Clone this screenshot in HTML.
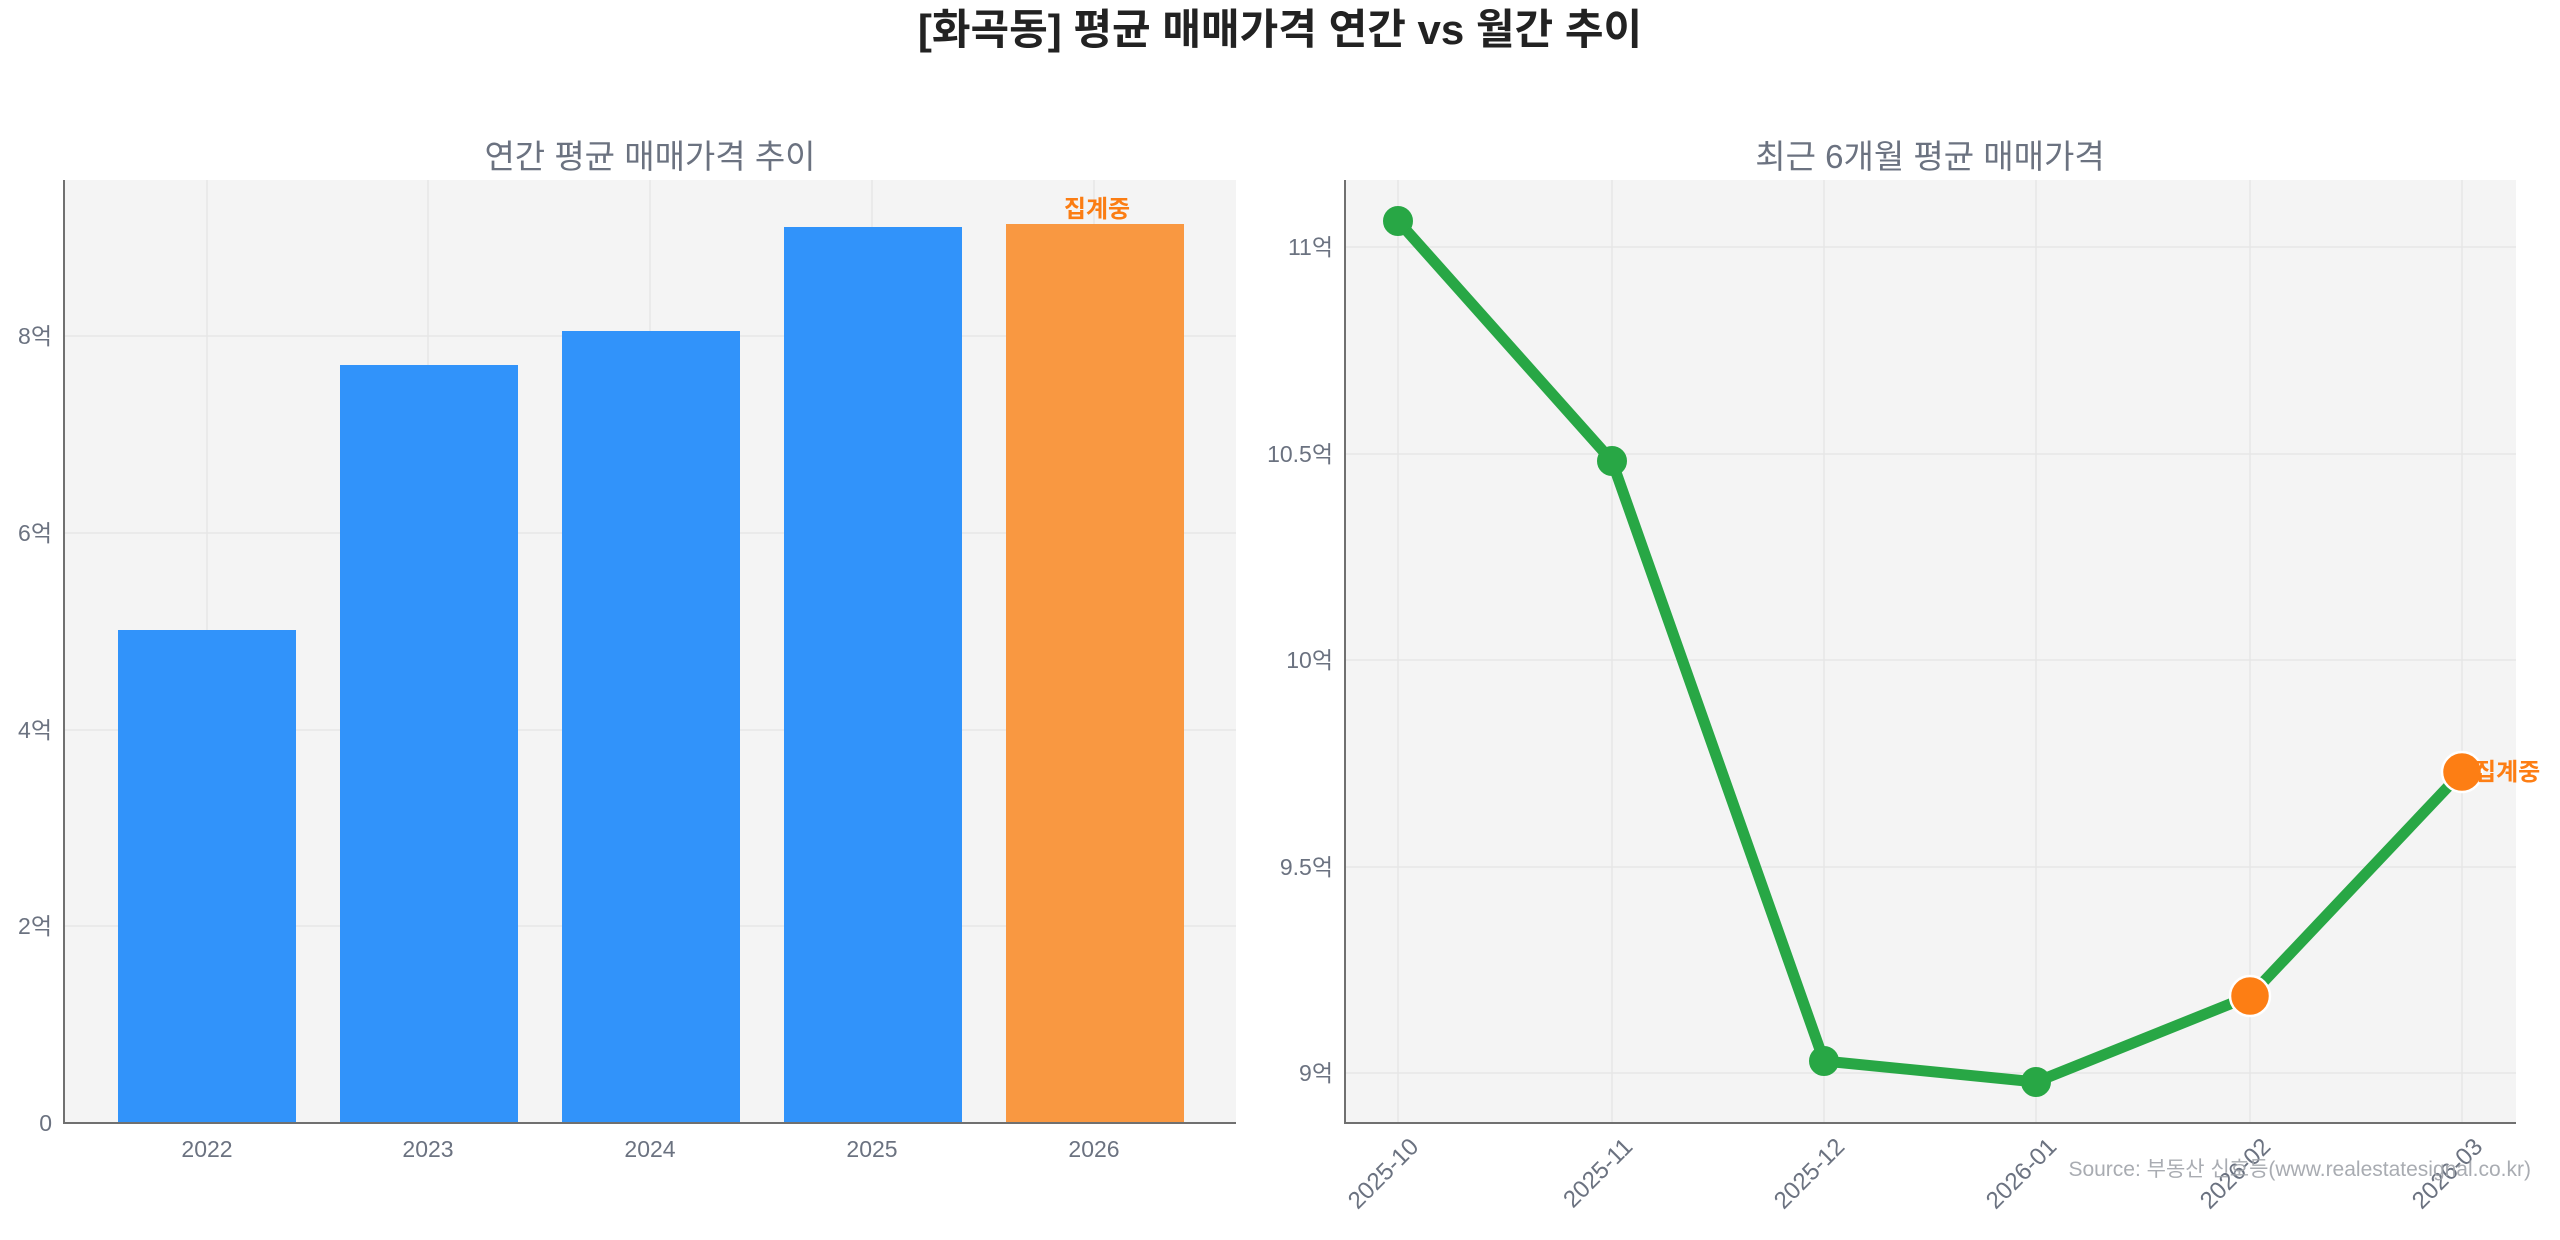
<!DOCTYPE html>
<html><head><meta charset="utf-8"><style>
body{margin:0;background:#fff}
text{font-family:"Liberation Sans","Noto Sans CJK KR",sans-serif}
</style></head><body>
<svg width="2560" height="1235" xmlns="http://www.w3.org/2000/svg">
<rect width="2560" height="1235" fill="#fff"/>
<text x="1280" y="44" text-anchor="middle" font-size="42" font-weight="bold" fill="#222">[화곡동] 평균 매매가격 연간 vs 월간 추이</text>

<!-- Left panel -->
<rect x="64" y="180" width="1172" height="943" fill="#f4f4f4"/>
<g stroke="#e6e6e6" stroke-width="1.5">
<line x1="64" x2="1236" y1="336" y2="336"/><line x1="64" x2="1236" y1="533" y2="533"/>
<line x1="64" x2="1236" y1="730" y2="730"/><line x1="64" x2="1236" y1="926" y2="926"/>
<line x1="207" x2="207" y1="180" y2="1123"/><line x1="428" x2="428" y1="180" y2="1123"/>
<line x1="650" x2="650" y1="180" y2="1123"/><line x1="872" x2="872" y1="180" y2="1123"/>
<line x1="1094" x2="1094" y1="180" y2="1123"/>
</g>
<text x="650" y="168" text-anchor="middle" font-size="33" fill="#6b7280">연간 평균 매매가격 추이</text>
<rect x="118" y="630" width="178" height="493" fill="#3193fa"/>
<rect x="340" y="365" width="178" height="758" fill="#3193fa"/>
<rect x="562" y="331" width="178" height="792" fill="#3193fa"/>
<rect x="784" y="227" width="178" height="896" fill="#3193fa"/>
<rect x="1006" y="224" width="178" height="899" fill="#f99841"/>
<text x="1097" y="217" text-anchor="middle" font-size="24" font-weight="bold" fill="#fb7d13">집계중</text>
<g stroke="#707070" stroke-width="2"><line x1="64" x2="64" y1="180" y2="1124"/><line x1="63" x2="1236" y1="1123" y2="1123"/></g>
<g font-size="23" fill="#6b7280" text-anchor="end">
<text x="52" y="1131">0</text><text x="52" y="934">2억</text><text x="52" y="738">4억</text><text x="52" y="541">6억</text><text x="52" y="344">8억</text>
</g>
<g font-size="23" fill="#6b7280" text-anchor="middle">
<text x="207" y="1157">2022</text><text x="428" y="1157">2023</text><text x="650" y="1157">2024</text><text x="872" y="1157">2025</text><text x="1094" y="1157">2026</text>
</g>

<!-- Right panel -->
<rect x="1345" y="180" width="1171" height="943" fill="#f4f4f4"/>
<g stroke="#e6e6e6" stroke-width="1.5">
<line x1="1345" x2="2516" y1="247" y2="247"/><line x1="1345" x2="2516" y1="454" y2="454"/>
<line x1="1345" x2="2516" y1="660" y2="660"/><line x1="1345" x2="2516" y1="867" y2="867"/>
<line x1="1345" x2="2516" y1="1073" y2="1073"/>
<line x1="1398" x2="1398" y1="180" y2="1123"/><line x1="1612" x2="1612" y1="180" y2="1123"/>
<line x1="1824" x2="1824" y1="180" y2="1123"/><line x1="2036" x2="2036" y1="180" y2="1123"/>
<line x1="2250" x2="2250" y1="180" y2="1123"/><line x1="2462" x2="2462" y1="180" y2="1123"/>
</g>
<text x="1930" y="168" text-anchor="middle" font-size="33" fill="#6b7280">최근 6개월 평균 매매가격</text>
<polyline points="1398,221 1612,461 1824,1061 2036,1082 2250,996 2462,772" fill="none" stroke="#28a745" stroke-width="11" stroke-linejoin="round"/>
<g fill="#28a745" stroke="#28a745" stroke-width="2">
<circle cx="1398" cy="221" r="14"/><circle cx="1612" cy="461" r="14"/><circle cx="1824" cy="1061" r="14"/><circle cx="2036" cy="1082" r="14"/>
</g>
<g fill="#fd7e14" stroke="#fff" stroke-width="2.5">
<circle cx="2250" cy="996" r="20"/><circle cx="2462" cy="772" r="20"/>
</g>
<text x="2474" y="780" font-size="24" font-weight="bold" fill="#fd7e14">집계중</text>
<g stroke="#707070" stroke-width="2"><line x1="1345" x2="1345" y1="180" y2="1124"/><line x1="1344" x2="2516" y1="1123" y2="1123"/></g>
<g font-size="23" fill="#6b7280" text-anchor="end">
<text x="1333" y="1081">9억</text><text x="1333" y="875">9.5억</text><text x="1333" y="668">10억</text><text x="1333" y="462">10.5억</text><text x="1333" y="255">11억</text>
</g>
<g font-size="24" fill="#6b7280" text-anchor="end">
<text transform="translate(1420,1148) rotate(-45)">2025-10</text>
<text transform="translate(1634,1148) rotate(-45)">2025-11</text>
<text transform="translate(1846,1148) rotate(-45)">2025-12</text>
<text transform="translate(2058,1148) rotate(-45)">2026-01</text>
<text transform="translate(2272,1148) rotate(-45)">2026-02</text>
<text transform="translate(2484,1148) rotate(-45)">2026-03</text>
</g>
<text x="2531" y="1176" text-anchor="end" font-size="21" fill="#a0a4aa" opacity="0.9">Source: 부동산 신호등(www.realestatesignal.co.kr)</text>
</svg>
</body></html>
